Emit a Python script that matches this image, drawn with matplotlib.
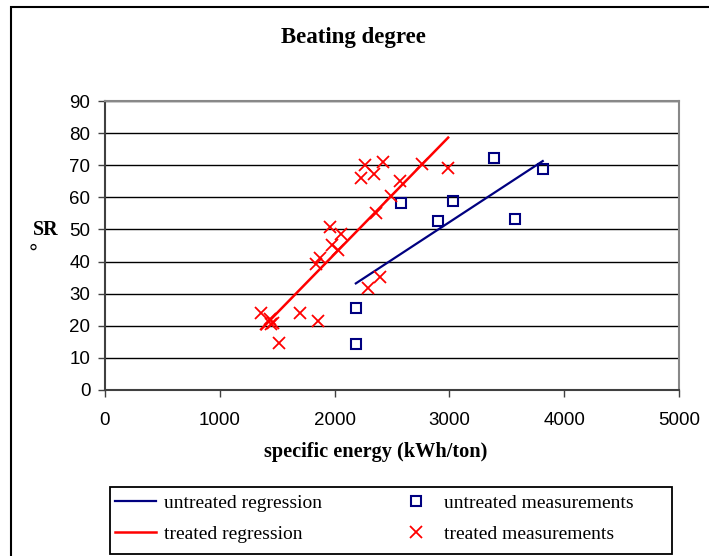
import matplotlib
matplotlib.use("Agg")
import matplotlib.pyplot as plt
from matplotlib.patches import Rectangle

# treated measurements (specific energy kWh/ton, SR degree)
treated_x = [1360, 1440, 1460, 1450, 1513, 1699, 1858, 1837, 1872, 1962, 1973,
             2026, 2060, 2234, 2262, 2347, 2422, 2364, 2494, 2569, 2763, 2989,
             2295, 2396]
treated_y = [24.1, 22.0, 21.0, 20.5, 14.7, 24.1, 21.5, 39.1, 41.2, 50.9, 45.2,
             43.6, 48.5, 65.9, 70.1, 67.3, 71.1, 55.2, 60.4, 65.2, 70.4, 69.2,
             31.7, 35.3]

# untreated measurements
untreated_x = [2185, 2185, 2581, 2905, 3029, 3388, 3573, 3813]
untreated_y = [25.5, 14.2, 58.1, 52.6, 59.0, 72.3, 53.2, 68.7]

# regression line end points
treated_reg_x = [1360, 2989]
treated_reg_y = [18.9, 78.6]
untreated_reg_x = [2185, 3813]
untreated_reg_y = [33.2, 71.3]

W, H = 709, 556
fig = plt.figure(figsize=(W / 100, H / 100), dpi=100)
ax = fig.add_axes([105 / W, 1 - 390 / H, (679 - 105) / W, (390 - 101) / H])

serif = "Liberation Serif"
sans = "Liberation Sans"

l1, = ax.plot(untreated_reg_x, untreated_reg_y, color="#000080", lw=1.6,
              label="untreated regression")
l2, = ax.plot(treated_reg_x, treated_reg_y, color="#ff0000", lw=1.8,
              label="treated regression")
s1, = ax.plot(untreated_x, untreated_y, ls="none", marker="s", ms=7,
              mfc="none", mec="#000080", mew=1.5, label="untreated measurements")
s2, = ax.plot(treated_x, treated_y, ls="none", marker="x", ms=9,
              color="#ff0000", mew=1.3, label="treated measurements")

ax.set_xlim(0, 5000)
ax.set_ylim(0, 90)
ax.set_xticks(range(0, 5001, 1000))
ax.set_yticks(range(0, 91, 10))
ax.yaxis.grid(True, color="black", lw=1)
ax.set_axisbelow(True)
for side in ["left", "bottom"]:
    ax.spines[side].set_color("#404040")
    ax.spines[side].set_linewidth(1.5)
for side in ["top", "right"]:
    ax.spines[side].set_color("#888888")
    ax.spines[side].set_linewidth(1.5)
ax.tick_params(direction="out", length=5, width=1, color="#404040",
               labelsize=13.5)
ax.tick_params(axis="x", pad=11)
ax.tick_params(axis="y", pad=5.5)
for lab in ax.get_xticklabels() + ax.get_yticklabels():
    lab.set_fontfamily(sans)

fig.text(353 / W, 1 - 37 / H, "Beating degree", ha="center", va="center",
         fontsize=16.5, fontweight="bold", family=serif)
fig.text(376 / W, 1 - 452 / H, "specific energy (kWh/ton)", ha="center",
         va="center", fontsize=14.6, fontweight="bold", family=serif)
fig.text(46 / W, 1 - 230 / H, "SR", ha="center", va="center",
         fontsize=14.5, fontweight="bold", family=serif)
fig.text(33 / W, 1 - 254 / H, "\u00b0", ha="center", va="center",
         fontsize=16, family=sans)

# outer chart frame
fig.patches.append(Rectangle((11 / W, -0.05), 1.1, 1 - 7 / H + 0.05,
                             transform=fig.transFigure, fill=False,
                             edgecolor="black", lw=1.5))
# legend box
fig.patches.append(Rectangle((110 / W, 1 - 554 / H), (672 - 110) / W,
                             (554 - 487) / H, transform=fig.transFigure,
                             fill=False, edgecolor="black", lw=1.3))

leg = fig.legend([l1, l2, s1, s2],
                 ["untreated regression", "treated regression",
                  "untreated measurements", "treated measurements"],
                 ncol=2, loc="upper left",
                 bbox_to_anchor=(115 / W, 1 - 494 / H),
                 prop={"family": serif, "size": 14},
                 frameon=False, borderaxespad=0, borderpad=0,
                 handlelength=2.1, handletextpad=0.4, labelspacing=0.72,
                 columnspacing=3.8)

fig.savefig("out.png", dpi=100)
